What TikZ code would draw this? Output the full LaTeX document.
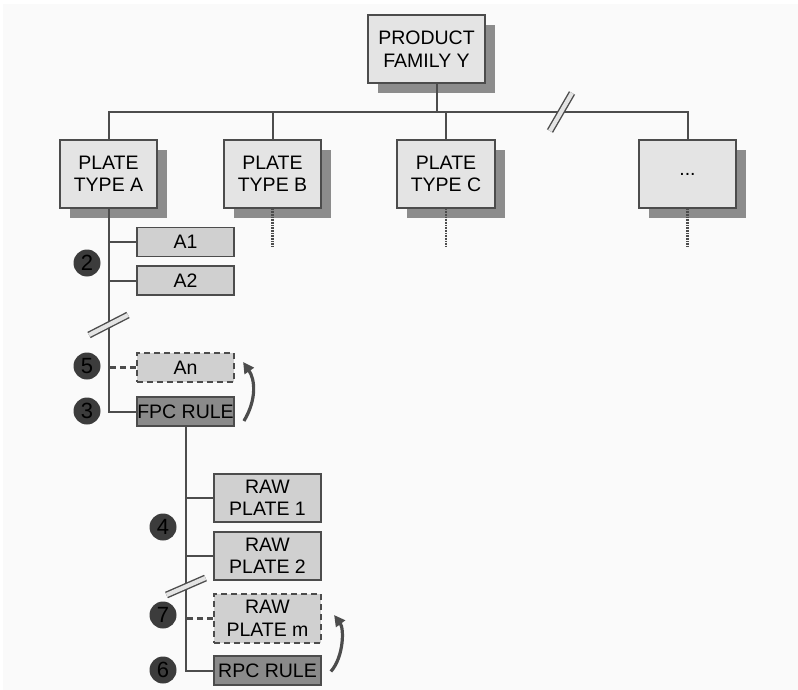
\documentclass[tikz,border=0pt]{standalone}
\usepackage{fontspec}
\setmainfont{Liberation Sans}
\usetikzlibrary{shadows,arrows.meta,calc}
\definecolor{bg}{HTML}{FAFAFA}
\definecolor{edge}{HTML}{4C4C4C}
\definecolor{boxfill}{HTML}{E4E4E4}
\definecolor{subfill}{HTML}{D0D0D0}
\definecolor{rulefill}{HTML}{8A8A8A}
\definecolor{shadowc}{HTML}{8C8C8C}
\definecolor{dotc}{HTML}{3C3C3C}
\begin{document}
\begin{tikzpicture}[x=1pt,y=-1pt,
  every node/.style={font=\fontsize{19.5}{22.5}\selectfont, align=center, inner sep=0pt},
  topbox/.style={draw=edge, line width=1.8pt, fill=boxfill, minimum width=97pt, minimum height=68pt,
     drop shadow={shadow xshift=10pt, shadow yshift=-10pt, fill=shadowc, opacity=1}},
  subbox/.style={draw=edge, line width=1.8pt, fill=subfill, minimum width=97pt, minimum height=29pt},
  rawbox/.style={subbox, minimum width=107pt, minimum height=48pt},
  rulebox/.style={draw=edge, line width=1.8pt, fill=rulefill},
  optbox/.style={subbox, dash pattern=on 6pt off 4pt, line width=2.2pt},
  conn/.style={draw=edge, line width=2pt},
  dconn/.style={draw=edge, line width=2.6pt, dash pattern=on 6pt off 4pt},
  stub/.style={draw=edge, line width=2.4pt, dash pattern=on 0.9pt off 0.7pt},
  num/.style={circle, fill=dotc, minimum size=27pt, text=black, font=\fontsize{22}{24}\selectfont},
  curvearrow/.style={draw=edge, line width=3.2pt, -{Triangle[length=11pt,width=11pt]}},
  slashout/.style={draw=edge, line width=7pt},
  slashin/.style={draw=boxfill, line width=4.2pt}
]
\useasboundingbox (0,0) rectangle (798,690);
\fill[white] (0,0) rectangle (798,690);
\fill[bg] (3,4) rectangle (798,690);

% top level
\node[topbox, minimum width=117pt] (pf) at (426.5,49) {PRODUCT\\FAMILY Y};
\node[topbox] (ta) at (108.5,174) {PLATE\\TYPE A};
\node[topbox] (tb) at (272.5,174) {PLATE\\TYPE B};
\node[topbox, minimum width=98pt] (tc) at (446,174) {PLATE\\TYPE C};
\node[topbox] (td) at (687.5,174) {...};
\coordinate (bus) at (0,112);

\draw[conn] ([xshift=10pt]pf.south) -- ([xshift=10pt]pf.south |- bus);
\draw[conn] (ta.north) -- (ta.north |- bus) -- (td.north |- bus) -- (td.north);
\draw[conn] (tb.north) -- (tb.north |- bus);
\draw[conn] (tc.north) -- (tc.north |- bus);
\coordinate (bs) at (561,112);
\draw[slashout] ($(bs)+(-11,19)$) -- ($(bs)+(11,-19)$);
\draw[slashin] ($(bs)+(-11,19)$) -- ($(bs)+(11,-19)$);

\draw[stub] (tb.south) -- ++(0,37);
\draw[stub] (tc.south) -- ++(0,37);
\draw[stub] (td.south) -- ++(0,37);

% plate type A branch
\node[subbox] (a1) at (185.5,242) {A1};
\node[subbox] (a2) at (185.5,280.5) {A2};
\node[optbox] (an) at (185.5,367.5) {An};
\node[subbox, rulebox] (fpc) at (185.5,411.5) {FPC RULE};

\draw[conn] (ta.south) |- (fpc.west);
\draw[conn] (a1.west) -- (a1.west -| ta.south);
\draw[conn] (a2.west) -- (a2.west -| ta.south);
\draw[dconn] (an.west) -- (an.west -| ta.south);
\coordinate (as) at (108.5,325);
\draw[slashout] ($(as)+(-19.5,10)$) -- ($(as)+(19.5,-10)$);
\draw[slashin] ($(as)+(-19.5,10)$) -- ($(as)+(19.5,-10)$);

\node[num] (c2) at (87,263) {2};
\node[num] (c5) at (87,366) {5};
\node[num] (c3) at (87,411) {3};

\draw[curvearrow] ([shift={(9,9.5)}]fpc.east) .. controls ([shift={(22,-12)}]fpc.east) and ([shift={(20,12)}]an.east) .. ([shift={(8,-5.5)}]an.east);

% raw plates
\node[rawbox] (r1) at (267.5,498) {RAW\\PLATE 1};
\node[rawbox] (r2) at (267.5,556) {RAW\\PLATE 2};
\node[rawbox, dash pattern=on 6pt off 4pt, line width=2.2pt, minimum height=49pt] (rm) at (267.5,618.5) {RAW\\PLATE m};
\node[rawbox, rulebox, minimum height=29pt] (rpc) at (267.5,670.5) {RPC RULE};

\draw[conn] (fpc.south) |- (rpc.west);
\draw[conn] (r1.west) -- (r1.west -| fpc.south);
\draw[conn] (r2.west) -- (r2.west -| fpc.south);
\draw[dconn] (rm.west) -- (rm.west -| fpc.south);
\coordinate (rs) at (186,586.5);
\draw[slashout] ($(rs)+(-19.5,8.5)$) -- ($(rs)+(19.5,-8.5)$);
\draw[slashin] ($(rs)+(-19.5,8.5)$) -- ($(rs)+(19.5,-8.5)$);

\node[num] (c4) at (163,527) {4};
\node[num] (c7) at (163,615) {7};
\node[num] (c6) at (163,670) {6};

\draw[curvearrow] ([shift={(9,1)}]rpc.east) .. controls ([shift={(22,-14)}]rpc.east) and ([shift={(22,10)}]rm.east) .. ([shift={(12,-3.5)}]rm.east);
\end{tikzpicture}
\end{document}
